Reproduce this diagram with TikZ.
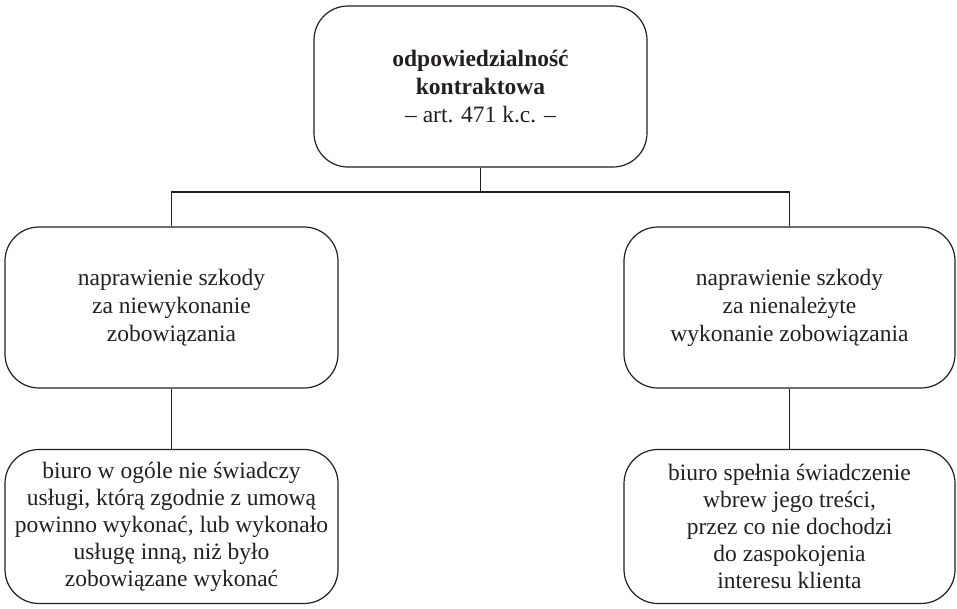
\documentclass[tikz,border=0pt]{standalone}
\usepackage{fontspec}
\setmainfont{Liberation Serif}
\definecolor{ink}{HTML}{231F20}
\begin{document}
\begin{tikzpicture}[x=1pt,y=-1pt,
  box/.style={draw=ink, line width=1.2pt, rounded corners=34pt, minimum width=333pt, minimum height=161pt, align=center, inner sep=0pt, font=\fontsize{23.5}{28}\selectfont, text=ink},
  conn/.style={draw=ink, line width=1.2pt}]
\useasboundingbox (0,0) rectangle (957,608);
\node[box] (top) at (480.5,86.5) {\textbf{odpowiedzialność}\\\textbf{kontraktowa}\\– art. 471 k.c. –};
\node[box] (lm) at (171.5,307.5) {naprawienie szkody\\za niewykonanie\\zobowiązania};
\node[box, minimum width=331pt] (rm) at (789.5,307.5) {naprawienie szkody\\za nienależyte\\wykonanie zobowiązania};
\node[box, minimum height=154pt, font=\fontsize{23.5}{27}\selectfont] (lb) at (171.5,526.5) {biuro w ogóle nie świadczy\\usługi, którą zgodnie z umową\\powinno wykonać, lub wykonało\\usługę inną, niż było\\zobowiązane wykonać};
\node[box, minimum width=331pt, minimum height=154pt, font=\fontsize{23.5}{27}\selectfont] (rb) at (789.5,526.5) {biuro spełnia świadczenie\\wbrew jego treści,\\przez co nie dochodzi\\do zaspokojenia\\interesu klienta};
\coordinate (j) at (top.south |- 0,192);
\draw[conn] (top.south) -- (j);
\draw[conn] (lm.north) |- (j) -| (rm.north);
\draw[conn] (lm.south) -- (lb.north);
\draw[conn] (rm.south) -- (rb.north);
\end{tikzpicture}
\end{document}
